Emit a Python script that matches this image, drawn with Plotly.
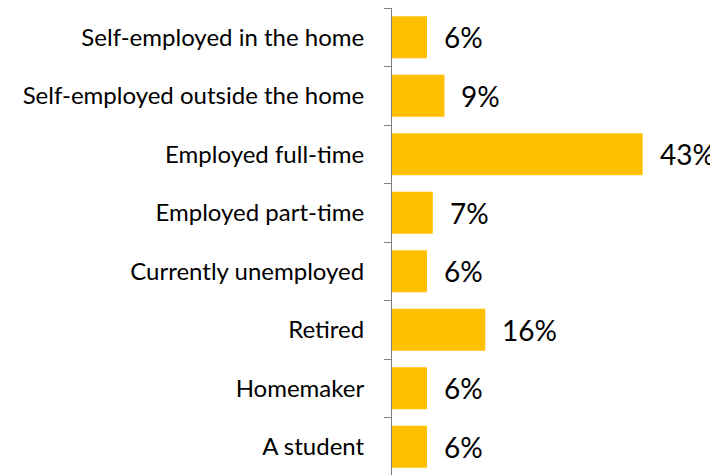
import plotly.graph_objects as go

categories = ["Self-employed in the home", "Self-employed outside the home",
              "Employed full-time", "Employed part-time", "Currently unemployed",
              "Retired", "Homemaker", "A student"]
values = [6, 9, 43, 7, 6, 16, 6, 6]
labels = [str(v) + "%" for v in values]

fig = go.Figure(go.Bar(x=values, y=categories, orientation="h",
                       marker=dict(color="#FFC000", line=dict(width=0)),
                       width=0.72))

for c, v, t in zip(categories, values, labels):
    fig.add_annotation(x=v, y=c, text=t, showarrow=False, xanchor="left",
                       xshift=15, font=dict(size=28, color="#000000", family="Lato"))

# page body adds ~8px offset, so margins are trimmed to compensate
fig.update_layout(
    width=718, height=475,
    margin=dict(l=384, r=0, t=0, b=7),
    plot_bgcolor="white", paper_bgcolor="white",
    showlegend=False,
    font=dict(family="Lato", color="#000000"),
)
fig.update_xaxes(range=[0, 57.3], visible=False)
fig.update_yaxes(autorange="reversed", showline=True, linecolor="#808080", linewidth=1,
                 ticks="outside", ticklen=7, tickcolor="#808080", tickson="boundaries",
                 ticklabelstandoff=22, tickfont=dict(size=24, family="Lato"),
                 showgrid=False)

fig.write_html("out.html")
